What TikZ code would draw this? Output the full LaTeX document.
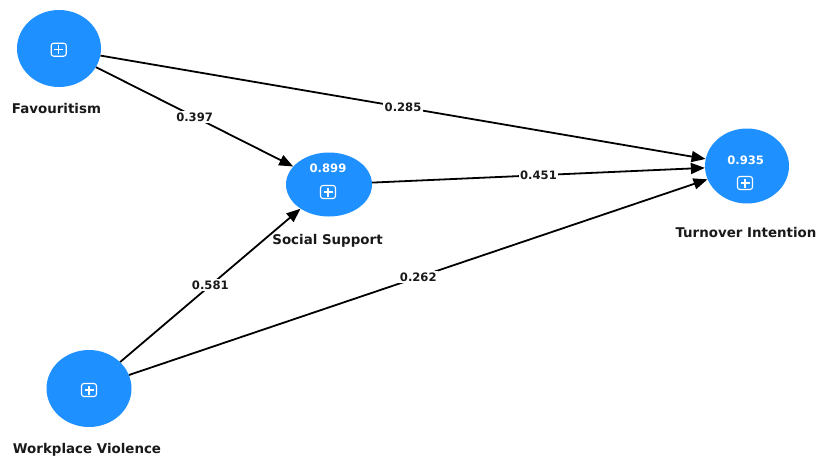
\documentclass[tikz,border=0pt]{standalone}
\usepackage{fontspec}
\setmainfont{DejaVu Sans}
\usetikzlibrary{shapes.geometric,arrows.meta}
\definecolor{lvblue}{RGB}{30,144,255}
\definecolor{txt}{RGB}{25,25,25}
\begin{document}
\begin{tikzpicture}[x=1pt,y=-1pt,
  lv/.style={ellipse, fill=lvblue, inner sep=0pt},
  lvname/.style={anchor=base, font=\fontsize{13.4}{15}\selectfont\bfseries, text=txt},
  rsq/.style={anchor=base, font=\fontsize{11.6}{13}\selectfont\bfseries, text=white},
  plusbox/.style={draw=white, line width=1.1pt, rounded corners=2.5pt, minimum width=15pt, minimum height=13pt, inner sep=0pt,
    path picture={\draw[white,line width=1.2pt]
      ([xshift=-4.5pt]path picture bounding box.center) -- ([xshift=4.5pt]path picture bounding box.center)
      ([yshift=-4.5pt]path picture bounding box.center) -- ([yshift=4.5pt]path picture bounding box.center);}},
  conn/.style={line width=1.8pt, draw=black, -{Triangle[length=14pt,width=11pt]}},
  coef/.style={fill=white, inner sep=1.5pt, font=\fontsize{11.6}{13}\selectfont\bfseries, text=txt, pos=0.5}]
\fill[white] (0,0) rectangle (816,456);
\useasboundingbox (0,0) rectangle (816,456);

% latent variables
\node[lv, minimum width=84pt, minimum height=77pt] (fav) at (59,48.5) {};
\node[lv, minimum width=86pt, minimum height=64pt] (ss) at (329,184.5) {};
\node[lv, minimum width=84pt, minimum height=75pt] (ti) at (747,166) {};
\node[lv, minimum width=85pt, minimum height=77pt] (wv) at (89,388.5) {};

% icons and values
\node[plusbox] (favicon) at (58.7,49.7) {};
\node[plusbox] (ssicon) at (328,192) {};
\node[plusbox] (tiicon) at (745,183) {};
\node[plusbox] (wvicon) at (89,390) {};
\node[rsq] (ssr2) at (328,172.7) {0.899};
\node[rsq] (tir2) at (745.7,164.3) {0.935};

% names
\node[lvname] (favname) at (56.5,113) {Favouritism};
\node[lvname] (ssname) at (327.5,244) {Social Support};
\node[lvname] (tiname) at (746,237) {Turnover Intention};
\node[lvname] (wvname) at (87,453) {Workplace Violence};

% paths
\draw[conn] (fav) -- node[coef] {0.397} (ss);
\draw[conn] (fav) -- node[coef] {0.285} (ti);
\draw[conn] (ss) -- node[coef] {0.451} (ti);
\draw[conn] (wv) -- node[coef] {0.581} (ss);
\draw[conn] (wv) -- node[coef] {0.262} (ti);
\end{tikzpicture}
\end{document}
